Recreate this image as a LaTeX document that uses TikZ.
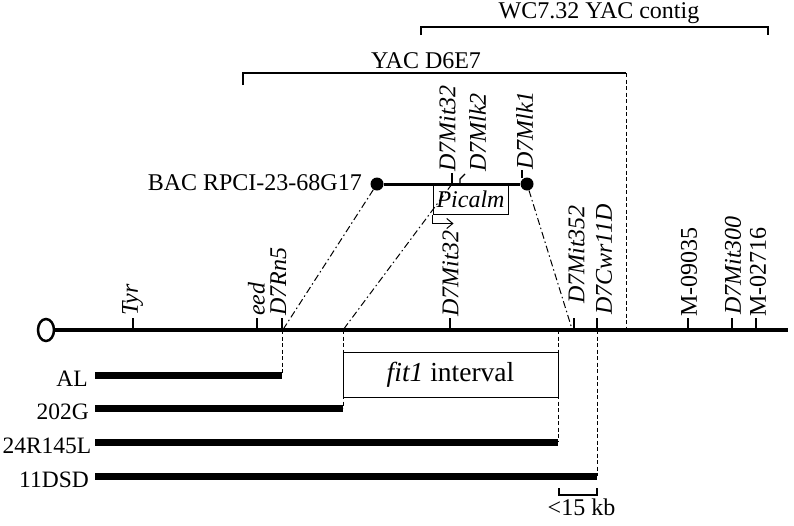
\documentclass[tikz,border=0pt]{standalone}
\usepackage{fontspec}
\setmainfont{Liberation Serif}
\usetikzlibrary{arrows.meta,shapes.geometric}
\begin{document}
\begin{tikzpicture}[x=1pt,y=-1pt,
  every node/.style={font=\fontsize{24}{28}\selectfont, inner sep=0pt},
  lbl/.style={rotate=90, anchor=west, font=\fontsize{24}{28}\selectfont\itshape},
  lblup/.style={rotate=90, anchor=west, font=\fontsize{24}{28}\selectfont},
  tick/.style={line width=1.2pt},
  chrom/.style={line width=4.5pt},
  bar/.style={line width=7pt},
  dsh/.style={line width=1pt, dash pattern=on 4pt off 2.5pt},
  dshdot/.style={line width=1pt, dash pattern=on 7pt off 3pt on 1.5pt off 3pt},
  brk/.style={line width=1.2pt},
  dot/.style={circle, fill=black, minimum size=13pt, inner sep=0pt},
  boxed/.style={draw, line width=1pt},
  strain/.style={anchor=east, font=\fontsize{23.5}{28}\selectfont}
]
\useasboundingbox (0,0) rectangle (794,525);

% brackets
\node[anchor=base] (wc) at (599,18) {WC7.32 YAC contig};
\coordinate (wcL) at (421,35); \coordinate (wcR) at (768,35);
\draw[brk] (wcL) -- (421,27) -- (768,27) -- (wcR);
\node[anchor=base] (yac) at (426,68) {YAC D6E7};
\coordinate (yacL) at (243,85); \coordinate (yacR) at (626,73); \coordinate (yacB) at (626,330);
\draw[brk] (yacL) -- (243,73) -- (yacR);
\draw[dsh] (yacR) -- (yacB);

% chromosome
\node[ellipse, draw, line width=2.5pt, minimum width=16pt, minimum height=22pt, inner sep=0pt] (cen) at (46,330) {};
\coordinate (chromEnd) at (788,330);
\draw[chrom] (cen.east) -- (chromEnd);
\foreach \x in {133,257,282,450,574,597,688,732,756}
  \draw[tick] (\x,330) -- (\x,318);

\node[lbl] (tyr) at (132.5,316) {Tyr};
\node[lbl] (eed) at (256.5,316) {eed};
\node[lbl] (rn5) at (278.5,316) {D7Rn5};
\node[lbl] (mit32b) at (450.5,317) {D7Mit32};
\node[lbl] (mit352) at (576.5,304) {D7Mit352};
\node[lbl] (cwr) at (604,315) {D7Cwr11D};
\node[lblup] (m09) at (689,317) {M-09035};
\node[lbl] (mit300) at (733,315) {D7Mit300};
\node[lblup] (m02) at (758,317) {M-02716};

% BAC
\node[dot] (bacL) at (377,184) {};
\node[dot] (bacR) at (527,184) {};
\draw[line width=3pt] (bacL) -- (bacR);
\node[anchor=base east] (bac) at (362,190) {BAC RPCI-23-68G17};
\draw[tick] (452,184) -- (452,173);
\draw[tick] (460,184) -- (460,179) -- (465,174);
\draw[tick] (522,178) -- (522,170);
\node[lbl] (mit32a) at (447.5,172) {D7Mit32};
\node[lbl] (mlk2) at (477.5,172) {D7Mlk2};
\node[lbl] (mlk1) at (524.5,170) {D7Mlk1};

\node[boxed, minimum width=75pt, minimum height=30pt, font=\fontsize{24}{28}\selectfont\itshape] (picalm) at (470.5,199) {Picalm};
\draw[line width=1pt, -{Straight Barb[length=6pt,width=10pt,line width=1pt]}] (picalm.south west) -- ++(0,9) -- ++(21,0);

% dash-dot projections
\coordinate (mit32top) at (452,184);
\coordinate (pRn5) at (284,328);
\coordinate (pFitL) at (343,330);
\coordinate (pMit352) at (572,329);
\draw[dshdot] (bacL) -- (pRn5);
\draw[dshdot] (mit32top) -- (pFitL);
\draw[dshdot] (bacR) -- (pMit352);

% dashed verticals
\coordinate (dAL) at (282,375);
\coordinate (d202) at (343,408);
\coordinate (d24) at (558,442);
\coordinate (d11) at (597,476);
\draw[dsh] (282,330) -- (dAL);
\draw[dsh] (343,330) -- (d202);
\draw[dsh] (558,330) -- (d24);
\draw[dsh] (597,330) -- (d11);

% fit1 interval
\node[boxed, minimum width=215pt, minimum height=45pt, font=\fontsize{27.5}{31}\selectfont] (fit) at (450.5,374.5) {\textit{fit1} interval};

% deletion bars
\node[strain] (al) at (88,379) {AL};
\node[strain] (g202) at (89,411.5) {202G};
\node[strain] (r24) at (91.5,445.5) {24R145L};
\node[strain] (d11l) at (89,479.5) {11DSD};
\draw[bar] (95,375) -- (dAL);
\draw[bar] (95,408) -- (d202);
\draw[bar] (95,442) -- (d24);
\draw[bar] (95,476) -- (d11);

% scale
\coordinate (sL) at (559,488); \coordinate (sR) at (597,488);
\draw[line width=1.2pt] (sL) -- (559,495) -- (597,495) -- (sR);
\node[anchor=base] (kb) at (581.5,515) {<15 kb};
\end{tikzpicture}
\end{document}
